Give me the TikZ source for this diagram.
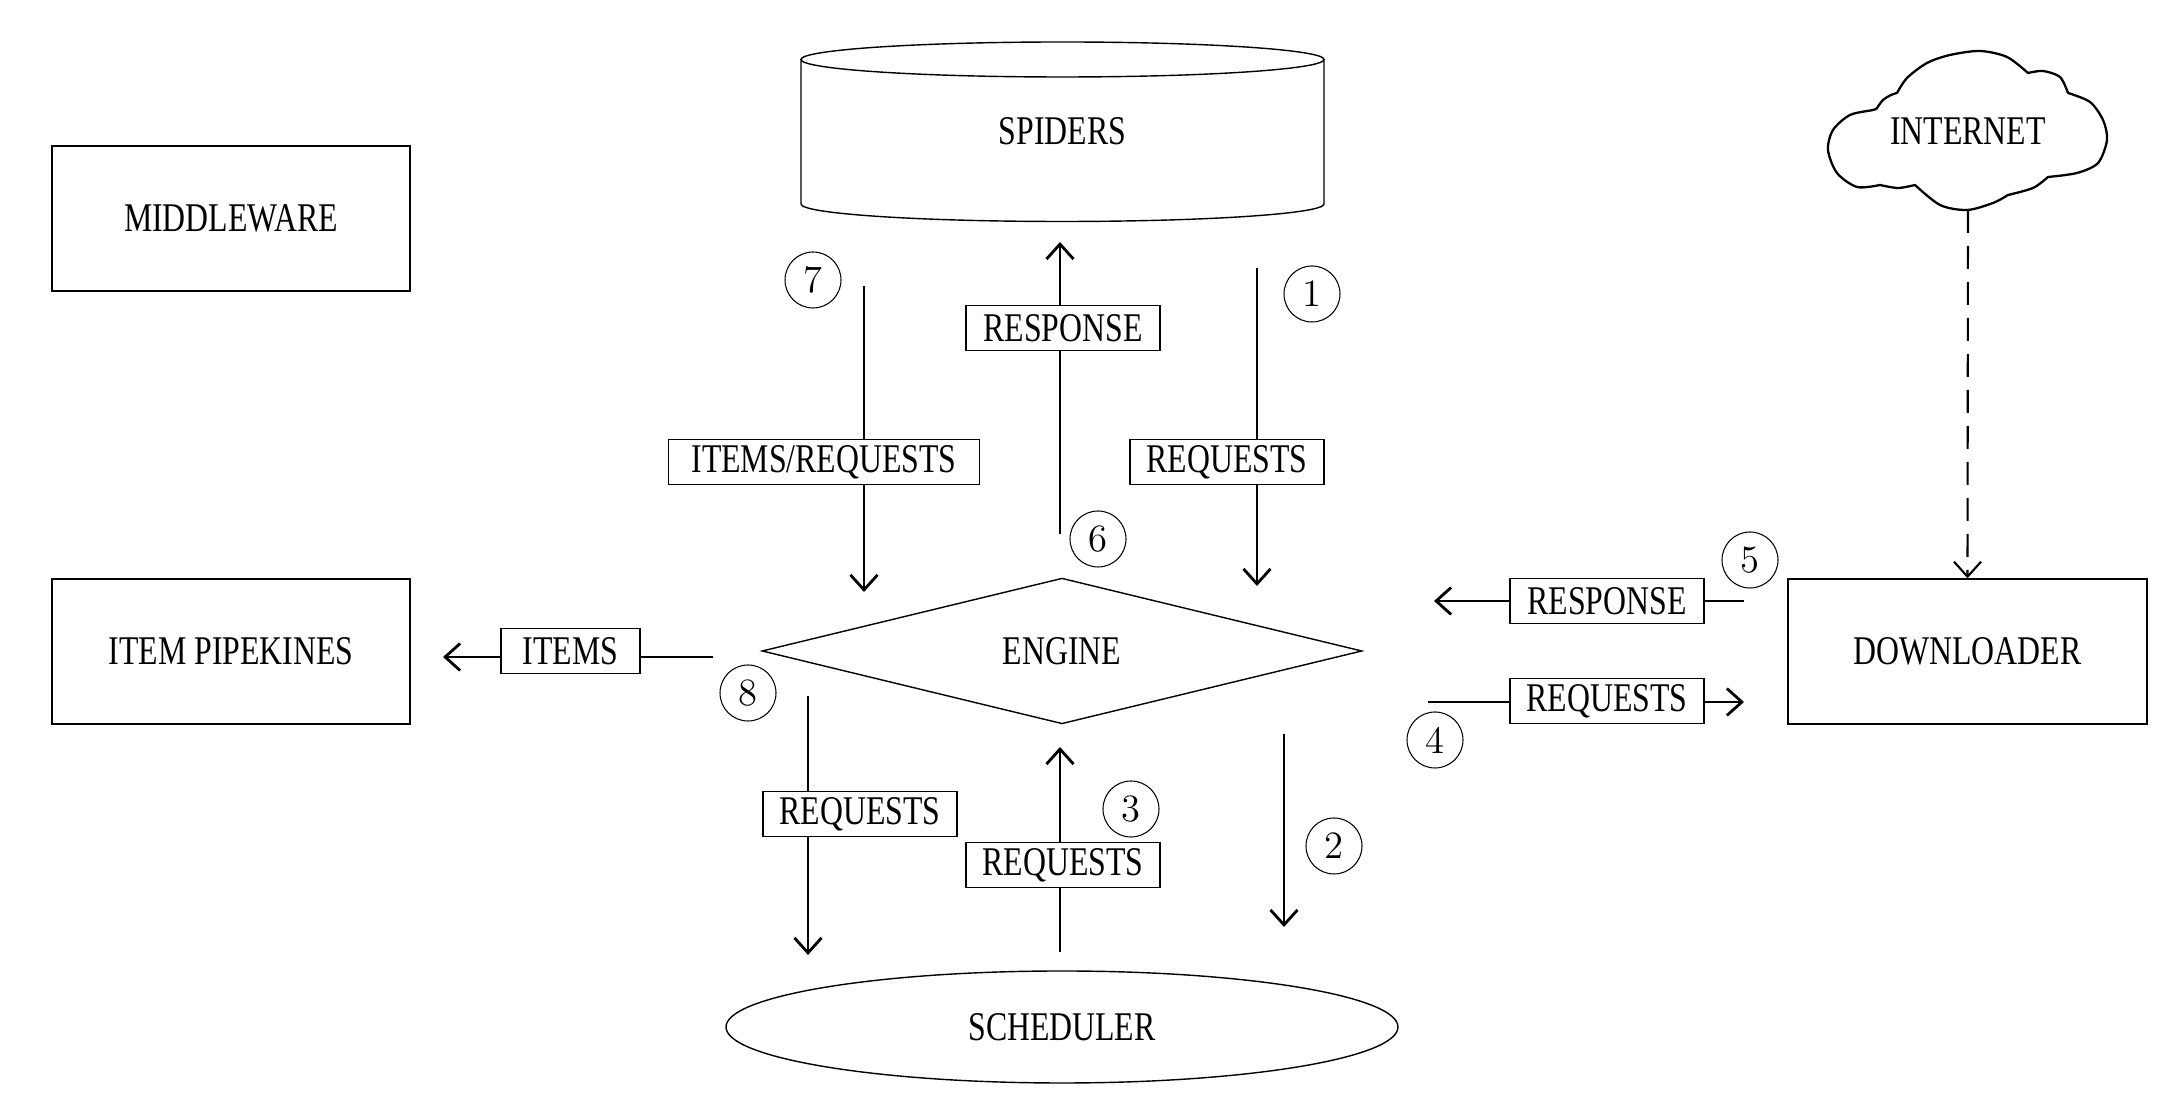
\documentclass[tikz,border=0pt]{standalone}
\usepackage{fontspec}
\newfontfamily\labfam{Liberation Serif}[FakeStretch=0.78]
\usetikzlibrary{shapes.geometric,arrows.meta}
\newcommand{\labf}{\labfam\fontsize{11.6}{13}\selectfont}
\newcommand{\numf}{\fontsize{11}{13}\selectfont}
\begin{document}
\begin{tikzpicture}[x=0.1mm,y=-0.1mm,
  box/.style={draw,line width=0.4pt,inner sep=0pt,font=\labf},
  lab/.style={draw,line width=0.4pt,fill=white,inner sep=0pt,minimum width=19.4mm,minimum height=4.5mm,font=\labf},
  num/.style={circle,draw,line width=0.3pt,minimum size=5.6mm,inner sep=0pt,font=\numf},
  arr/.style={line width=0.8pt,-{Straight Barb[length=1.5mm,width=2.7mm]}},
  cloudline/.style={line width=0.65pt,line join=round},
  ]
\useasboundingbox (0,0) rectangle (2176,1094);

% main components
\node[box,minimum width=35.8mm,minimum height=14.5mm] (mw) at (231,218.5) {MIDDLEWARE};
\node[box,minimum width=35.8mm,minimum height=14.5mm] (ip) at (231,651.5) {ITEM PIPEKINES};
\node[box,minimum width=35.9mm,minimum height=14.5mm] (dl) at (1967.5,651.5) {DOWNLOADER};
\node[diamond,draw,line width=0.4pt,minimum width=60mm,minimum height=14.4mm,inner sep=0pt,font=\labf] (engine) at (1062,651) {ENGINE};
\node[ellipse,draw,line width=0.4pt,minimum width=67.2mm,minimum height=11.2mm,inner sep=0pt,font=\labf] (sched) at (1062,1027) {SCHEDULER};

% spiders cylinder
\draw[line width=0.4pt] (1062.5,59.5) ellipse [x radius=261.5, y radius=17.5];
\draw[line width=0.4pt] (801,59.5) -- (801,204)
  .. controls (801,213.7) and (918.1,221.5) .. (1062.5,221.5)
  .. controls (1206.9,221.5) and (1324,213.7) .. (1324,204) -- (1324,59.5);
\node[font=\labf] (spiders) at (1062.5,131) {SPIDERS};

% internet cloud
\draw[cloudline]
  plot[smooth] coordinates {(1880,185) (1857,187) (1837,173) (1828,150) (1833,130) (1850,115) (1873,110) (1877,108)}
  -- plot[smooth] coordinates {(1877,108) (1883,100) (1891,95) (1897,93)}
  -- plot[smooth] coordinates {(1897,93) (1907,78) (1927,63) (1950,55) (1980,51) (2007,57) (2028,73)}
  -- plot[smooth] coordinates {(2028,73) (2043,71) (2060,77) (2068,93)}
  -- plot[smooth] coordinates {(2068,93) (2090,102) (2103,120) (2107,140) (2098,163) (2077,173) (2048,177)}
  -- plot[smooth] coordinates {(2048,177) (2033,188) (2008,195)}
  -- plot[smooth] coordinates {(2008,195) (1993,203) (1967,210) (1940,205) (1915,185)}
  -- plot[smooth] coordinates {(1915,185) (1898,188) (1880,185)} -- cycle;
\node[font=\labf] (internet) at (1968,131) {INTERNET};
\coordinate (netb) at (1968,210);

% connector end points
\coordinate (a7s) at (864,286);   \coordinate (a7e) at (864,592);
\coordinate (a6s) at (1060,534);  \coordinate (a6e) at (1060,242);
\coordinate (a1s) at (1257,268);  \coordinate (a1e) at (1257,586);
\coordinate (a8s) at (808,696);   \coordinate (a8e) at (808,955);
\coordinate (a3s) at (1060,952);  \coordinate (a3e) at (1060,747);
\coordinate (a2s) at (1284,734);  \coordinate (a2e) at (1284,927);
\coordinate (a5s) at (1744,601);  \coordinate (a5e) at (1434,601);
\coordinate (a4s) at (1428,702);  \coordinate (a4e) at (1744,702);
\coordinate (ais) at (713,657);   \coordinate (aie) at (443,657);

\draw[arr] (a7s) -- (a7e);
\draw[arr] (a6s) -- (a6e);
\draw[arr] (a1s) -- (a1e);
\draw[arr] (a8s) -- (a8e);
\draw[arr] (a3s) -- (a3e);
\draw[arr] (a2s) -- (a2e);
\draw[arr] (a5s) -- (a5e);
\draw[arr] (a4s) -- (a4e);
\draw[arr] (ais) -- (aie);
\draw[line width=0.6pt,dash pattern=on 2.3mm off 1.3mm,-{Straight Barb[length=1.5mm,width=2.7mm]}] (netb) -- (dl.north);

% labels
\node[lab,minimum width=31.1mm] (l7) at (824,462) {ITEMS/REQUESTS};
\node[lab] (l6) at (1063,328) {RESPONSE};
\node[lab] (l1) at (1227,462) {REQUESTS};
\node[lab] (l8) at (860,814) {REQUESTS};
\node[lab] (l3) at (1063,865) {REQUESTS};
\node[lab] (l5) at (1607,601) {RESPONSE};
\node[lab] (l4) at (1607,701) {REQUESTS};
\node[lab,minimum width=13.9mm] (litems) at (570.5,651) {ITEMS};

% step numbers
\node[num] (n1) at (1312,294) {1};
\node[num] (n2) at (1334,846) {2};
\node[num] (n3) at (1131,809) {3};
\node[num] (n4) at (1435,740) {4};
\node[num] (n5) at (1750,560) {5};
\node[num] (n6) at (1098,539) {6};
\node[num] (n7) at (813,280) {7};
\node[num] (n8) at (748,693) {8};
\end{tikzpicture}
\end{document}
